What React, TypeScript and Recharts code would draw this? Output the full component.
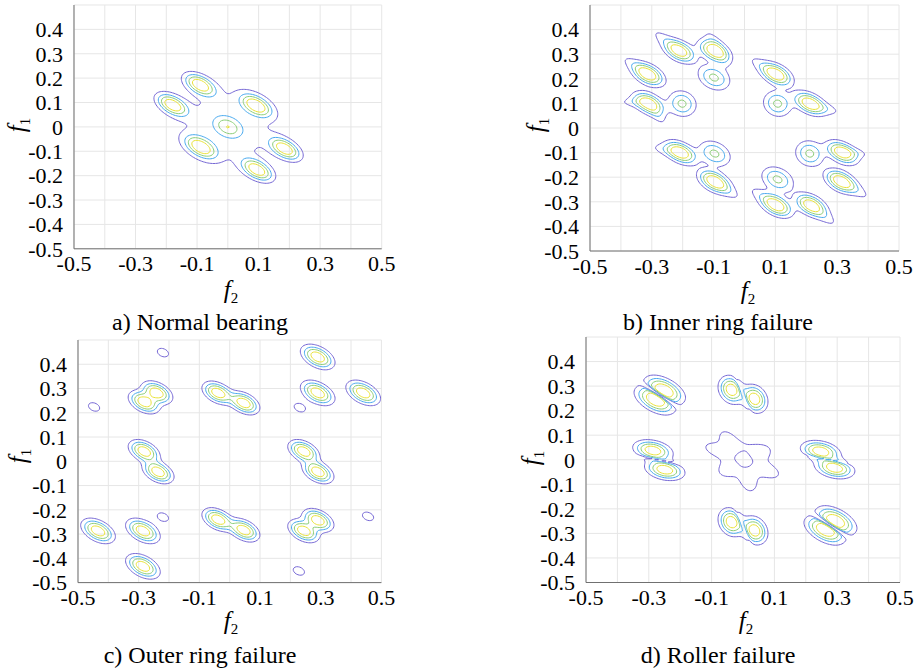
import React, { useMemo } from "react";
import { LineChart, Line, XAxis, YAxis, CartesianGrid } from "recharts";

// each peak: [f2, f1, height, sigma along axis, sigma across axis, axis angle in degrees]
type Peak = [number, number, number, number, number, number];

const levels = [0.15, 0.33, 0.52, 0.75];
const levelColors = ["#7466d4", "#47a9ee", "#8bcd77", "#e9e238"];

const xTicks = [-0.5, -0.4, -0.3, -0.2, -0.1, 0, 0.1, 0.2, 0.3, 0.4, 0.5];
const xTickLabels = ["-0.5", "", "-0.3", "", "-0.1", "", "0.1", "", "0.3", "", "0.5"];
const yTicks = [-0.5, -0.4, -0.3, -0.2, -0.1, 0, 0.1, 0.2, 0.3, 0.4];
const yTickLabels = ["-0.5", "-0.4", "-0.3", "-0.2", "-0.1", "0", "0.1", "0.2", "0.3", "0.4"];

const normalPeaks: Peak[] = [
  [-0.18, 0.09, 1, 0.035, 0.02, -40],
  [-0.09, 0.172, 1, 0.035, 0.02, -40],
  [0.092, 0.088, 1, 0.035, 0.02, -40],
  [-0.088, -0.083, 1, 0.035, 0.02, -40],
  [0.185, -0.09, 1, 0.035, 0.02, -40],
  [0.095, -0.176, 1, 0.035, 0.02, -40],
  [0, 0, 0.5, 0.03, 0.021, -40],
  [0, 0, 0.26, 0.12, 0.115, -40],
];

const innerPeaks: Peak[] = [
  [-0.21, 0.313, 1, 0.034, 0.021, -40],
  [-0.098, 0.313, 1, 0.034, 0.021, -40],
  [-0.312, 0.218, 1, 0.034, 0.021, -40],
  [-0.31, 0.099, 1, 0.034, 0.021, -40],
  [0.103, 0.218, 1, 0.034, 0.021, -40],
  [0.211, 0.1, 1, 0.034, 0.021, -40],
  [-0.207, -0.1, 1, 0.034, 0.021, -40],
  [-0.097, -0.217, 1, 0.034, 0.021, -40],
  [0.316, -0.1, 1, 0.034, 0.021, -40],
  [0.312, -0.217, 1, 0.034, 0.021, -40],
  [0.103, -0.314, 1, 0.034, 0.021, -40],
  [0.215, -0.314, 1, 0.034, 0.021, -40],
  [-0.099, 0.205, 0.58, 0.035, 0.026, -45],
  [-0.202, 0.099, 0.58, 0.032, 0.027, -70],
  [0.107, 0.099, 0.58, 0.032, 0.027, -70],
  [-0.097, -0.104, 0.58, 0.035, 0.026, -45],
  [0.211, -0.104, 0.58, 0.032, 0.027, -70],
  [0.107, -0.209, 0.58, 0.035, 0.026, -45],
  // faint tails of the outer contour
  [-0.35, 0.25, 0.19, 0.05, 0.016, -40],
  [-0.36, 0.105, 0.17, 0.04, 0.014, 0],
  [-0.28, 0.05, 0.17, 0.035, 0.014, -60],
  [-0.26, 0.36, 0.19, 0.045, 0.016, -45],
  [-0.09, 0.33, 0.19, 0.06, 0.016, -65],
  [0.06, 0.25, 0.19, 0.05, 0.016, -40],
  [0.26, 0.08, 0.19, 0.045, 0.016, -20],
  [-0.25, -0.09, 0.19, 0.045, 0.016, -15],
  [-0.06, -0.25, 0.19, 0.05, 0.016, -40],
  [0.355, -0.1, 0.17, 0.04, 0.014, -10],
  [0.36, -0.25, 0.19, 0.05, 0.016, -40],
  [0.06, -0.28, 0.19, 0.05, 0.016, -40],
  [0.26, -0.36, 0.19, 0.045, 0.016, -45],
];

const outerPeaks: Peak[] = [
  [0.29, 0.43, 1, 0.034, 0.021, -40],
  [0.29, 0.282, 1, 0.034, 0.021, -40],
  [0.44, 0.282, 1, 0.034, 0.021, -40],
  [-0.434, -0.287, 1, 0.034, 0.021, -40],
  [-0.286, -0.287, 1, 0.034, 0.021, -40],
  [-0.286, -0.433, 1, 0.034, 0.021, -40],
  [-0.282, 0.244, 1, 0.031, 0.02, -40],
  [-0.24, 0.283, 1, 0.031, 0.02, -40],
  [-0.039, 0.282, 1, 0.031, 0.02, -40],
  [0.047, 0.24, 1, 0.031, 0.02, -40],
  [-0.282, 0.041, 1, 0.031, 0.02, -40],
  [-0.236, -0.044, 1, 0.031, 0.02, -40],
  [0.244, 0.041, 1, 0.031, 0.02, -40],
  [0.291, -0.044, 1, 0.031, 0.02, -40],
  [-0.039, -0.24, 1, 0.031, 0.02, -40],
  [0.047, -0.284, 1, 0.031, 0.02, -40],
  [0.244, -0.287, 1, 0.031, 0.02, -40],
  [0.291, -0.243, 1, 0.031, 0.02, -40],
  [-0.22, 0.448, 0.19, 0.03, 0.022, -40],
  [-0.447, 0.224, 0.19, 0.03, 0.022, -40],
  [0.231, 0.221, 0.19, 0.03, 0.022, -40],
  [-0.22, -0.23, 0.19, 0.03, 0.022, -40],
  [0.456, -0.227, 0.19, 0.03, 0.022, -40],
  [0.228, -0.452, 0.19, 0.03, 0.022, -40],
];

const rollerPeaks: Peak[] = [
  [-0.281, 0.242, 1, 0.04, 0.022, -40],
  [-0.249, 0.285, 1, 0.04, 0.022, -40],
  [-0.265, 0.2635, -0.9, 0.05, 0.005, -40],
  [0.26, -0.288, 1, 0.04, 0.022, -40],
  [0.297, -0.247, 1, 0.04, 0.022, -40],
  [0.2785, -0.2675, -0.9, 0.05, 0.005, -40],
  [-0.037, 0.285, 1, 0.031, 0.021, -75],
  [0.037, 0.248, 1, 0.031, 0.021, -75],
  [0, 0.2665, -0.3, 0.04, 0.004, -70],
  [-0.037, -0.254, 1, 0.031, 0.021, -75],
  [0.037, -0.288, 1, 0.031, 0.021, -75],
  [0, -0.271, -0.3, 0.04, 0.004, -70],
  [-0.287, 0.038, 1, 0.034, 0.021, -18],
  [-0.249, -0.041, 1, 0.034, 0.021, -18],
  [-0.268, -0.0015, -0.3, 0.04, 0.004, -15],
  [0.247, 0.035, 1, 0.034, 0.021, -18],
  [0.292, -0.034, 1, 0.034, 0.021, -18],
  [0.2695, 0.0005, -0.3, 0.04, 0.004, -15],
  // central flower (outer level only): six petals on a hollow ring
  [-0.05, 0.086, 0.22, 0.032, 0.02, 120],
  [-0.09, 0.044, 0.22, 0.032, 0.02, 154],
  [0.056, 0.031, 0.17, 0.027, 0.019, 29],
  [0.084, -0.049, 0.22, 0.032, 0.02, -30],
  [0.02, -0.096, 0.22, 0.032, 0.02, -78],
  [-0.048, -0.039, 0.17, 0.027, 0.019, 219],
  [0.004, 0, 0.64, 0.045, 0.045, 0],
  [0.004, 0, -0.62, 0.033, 0.033, 0],
];

const N = 200;

function buildField(peaks: Peak[]) {
  const f = new Float64Array((N + 1) * (N + 1));
  const pre = peaks.map(([px, py, h, s1, s2, a]) => {
    const t = (a * Math.PI) / 180;
    return { px, py, h, c: Math.cos(t), s: Math.sin(t), k1: 0.5 / (s1 * s1), k2: 0.5 / (s2 * s2) };
  });
  for (let j = 0; j <= N; j++) {
    const y = -0.5 + j / N;
    for (let i = 0; i <= N; i++) {
      const x = -0.5 + i / N;
      let v = 0;
      for (const p of pre) {
        const dx = x - p.px;
        const dy = y - p.py;
        const u = dx * p.c + dy * p.s;
        const w = -dx * p.s + dy * p.c;
        const e = u * u * p.k1 + w * w * p.k2;
        if (e < 30) v += p.h * Math.exp(-e);
      }
      f[j * (N + 1) + i] = v;
    }
  }
  return f;
}

function traceLevel(f: Float64Array, level: number) {
  const M = N + 1;
  const at = (i: number, j: number) => f[j * M + i];
  const pts = new Map<number, [number, number]>();
  const keyOf = (cellI: number, cellJ: number, e: number) => {
    // 0 bottom, 1 right, 2 top, 3 left
    let key: number;
    if (e === 0 || e === 2) {
      const j = e === 0 ? cellJ : cellJ + 1;
      key = j * M + cellI;
      if (!pts.has(key)) {
        const a = at(cellI, j);
        const b = at(cellI + 1, j);
        const t = (level - a) / (b - a);
        pts.set(key, [-0.5 + (cellI + t) / N, -0.5 + j / N]);
      }
    } else {
      const i = e === 3 ? cellI : cellI + 1;
      key = M * M + cellJ * M + i;
      if (!pts.has(key)) {
        const a = at(i, cellJ);
        const b = at(i, cellJ + 1);
        const t = (level - a) / (b - a);
        pts.set(key, [-0.5 + i / N, -0.5 + (cellJ + t) / N]);
      }
    }
    return key;
  };
  const segs: [number, number][] = [];
  const touch = new Map<number, number[]>();
  const addSeg = (i: number, j: number, e1: number, e2: number) => {
    const a = keyOf(i, j, e1);
    const b = keyOf(i, j, e2);
    const idx = segs.length;
    segs.push([a, b]);
    for (const k of [a, b]) {
      const l = touch.get(k);
      if (l) l.push(idx);
      else touch.set(k, [idx]);
    }
  };
  for (let j = 0; j < N; j++) {
    for (let i = 0; i < N; i++) {
      const v0 = at(i, j), v1 = at(i + 1, j), v2 = at(i + 1, j + 1), v3 = at(i, j + 1);
      const c = (v0 > level ? 1 : 0) | (v1 > level ? 2 : 0) | (v2 > level ? 4 : 0) | (v3 > level ? 8 : 0);
      if (c === 0 || c === 15) continue;
      const mid = (v0 + v1 + v2 + v3) / 4 > level;
      switch (c) {
        case 1: case 14: addSeg(i, j, 3, 0); break;
        case 2: case 13: addSeg(i, j, 0, 1); break;
        case 3: case 12: addSeg(i, j, 3, 1); break;
        case 4: case 11: addSeg(i, j, 1, 2); break;
        case 6: case 9: addSeg(i, j, 0, 2); break;
        case 7: case 8: addSeg(i, j, 2, 3); break;
        case 5:
          if (mid) { addSeg(i, j, 0, 1); addSeg(i, j, 2, 3); } else { addSeg(i, j, 3, 0); addSeg(i, j, 1, 2); }
          break;
        case 10:
          if (mid) { addSeg(i, j, 3, 0); addSeg(i, j, 1, 2); } else { addSeg(i, j, 0, 1); addSeg(i, j, 2, 3); }
          break;
      }
    }
  }
  const used = new Uint8Array(segs.length);
  const out: { x: number; y: number | null }[] = [];
  const follow = (start: number) => {
    const chain: number[] = [];
    let cur = start;
    for (;;) {
      const next = (touch.get(cur) || []).find((s) => !used[s]);
      if (next === undefined) break;
      used[next] = 1;
      const [a, b] = segs[next];
      cur = a === cur ? b : a;
      chain.push(cur);
    }
    return chain;
  };
  for (let s = 0; s < segs.length; s++) {
    if (used[s]) continue;
    used[s] = 1;
    const [a, b] = segs[s];
    const fwd = follow(b);
    const back = follow(a);
    const keys = [...back.reverse(), a, b, ...fwd];
    for (const k of keys) {
      const p = pts.get(k)!;
      out.push({ x: p[0], y: p[1] });
    }
    const last = pts.get(keys[keys.length - 1])!;
    out.push({ x: last[0], y: null });
  }
  return out;
}

type Box = { left: number; right: number; top: number; bottom: number };

const serif = "'Liberation Serif', 'Times New Roman', Times, 'DejaVu Serif', serif";
const tickStyle = { fontSize: 22, fill: "#000", fontFamily: serif };

function Panel({ box, peaks }: { box: Box; peaks: Peak[] }) {
  const series = useMemo(() => {
    const f = buildField(peaks);
    return levels.map((l) => traceLevel(f, l));
  }, [peaks]);
  return (
    <div style={{ position: "absolute", left: box.left - 60, top: box.top - 10 }}>
      <LineChart
        width={box.right - box.left + 90}
        height={box.bottom - box.top + 50}
        margin={{ top: 10, right: 30, bottom: 10, left: 0 }}
        style={{ fontFamily: serif }}
      >
        <CartesianGrid stroke="#e6e6e6" />
        <XAxis
          type="number"
          dataKey="x"
          domain={[-0.5, 0.5]}
          allowDataOverflow
          ticks={xTicks}
          interval={0}
          tickFormatter={(v: number) => xTickLabels[xTicks.indexOf(v)] ?? ""}
          height={30}
          tickSize={0}
          tickMargin={7}
          tickLine={false}
          axisLine={{ stroke: "#707070" }}
          tick={tickStyle}
        />
        <YAxis
          type="number"
          domain={[-0.5, 0.5]}
          allowDataOverflow
          ticks={yTicks}
          interval={0}
          tickFormatter={(v: number) => yTickLabels[yTicks.indexOf(v)] ?? ""}
          width={60}
          tickSize={0}
          tickMargin={11}
          tickLine={false}
          axisLine={{ stroke: "#707070" }}
          tick={tickStyle}
        />
        {series.map((pts, k) => (
          <Line
            key={k}
            data={pts}
            dataKey="y"
            stroke={levelColors[k]}
            strokeWidth={1}
            dot={false}
            activeDot={false}
            connectNulls={false}
            isAnimationActive={false}
          />
        ))}
      </LineChart>
    </div>
  );
}

function AxisName({ x, y, sub, rotate }: { x: number; y: number; sub: string; rotate?: boolean }) {
  return (
    <div
      style={{
        position: "absolute",
        left: x,
        top: y,
        transform: `translate(-50%, -50%)${rotate ? " rotate(-90deg)" : ""}`,
        fontFamily: serif,
        fontSize: 25,
        lineHeight: "25px",
        whiteSpace: "nowrap",
      }}
    >
      <i>f</i>
      <span style={{ fontSize: 15, position: "relative", top: 5 }}>{sub}</span>
    </div>
  );
}

function Caption({ x, y, text }: { x: number; y: number; text: string }) {
  return (
    <div
      style={{
        position: "absolute",
        left: x,
        top: y,
        transform: "translate(-50%, -50%)",
        fontFamily: serif,
        fontSize: 24,
        lineHeight: "24px",
        whiteSpace: "nowrap",
      }}
    >
      {text}
    </div>
  );
}

export default function App() {
  return (
    <div style={{ position: "absolute", left: 0, top: 0, width: 918, height: 671, background: "#fff", fontFamily: serif }}>
      <Panel box={{ left: 74, right: 381.7, top: 4.9, bottom: 248.7 }} peaks={normalPeaks} />
      <Panel box={{ left: 590.3, right: 899.3, top: 4.7, bottom: 250.7 }} peaks={innerPeaks} />
      <Panel box={{ left: 78.3, right: 381.7, top: 339.7, bottom: 582.3 }} peaks={outerPeaks} />
      <Panel box={{ left: 586.3, right: 900.3, top: 336.8, bottom: 582.3 }} peaks={rollerPeaks} />
      <AxisName x={231} y={291} sub="2" />
      <AxisName x={748} y={292} sub="2" />
      <AxisName x={231} y={622} sub="2" />
      <AxisName x={746} y={622} sub="2" />
      <AxisName x={18} y={125} sub="1" rotate />
      <AxisName x={537} y={125} sub="1" rotate />
      <AxisName x={19} y={456} sub="1" rotate />
      <AxisName x={532} y={458} sub="1" rotate />
      <Caption x={200} y={322} text="a) Normal bearing" />
      <Caption x={718} y={322} text="b) Inner ring failure" />
      <Caption x={200} y={655} text="c) Outer ring failure" />
      <Caption x={718} y={655} text="d) Roller failure" />
    </div>
  );
}
